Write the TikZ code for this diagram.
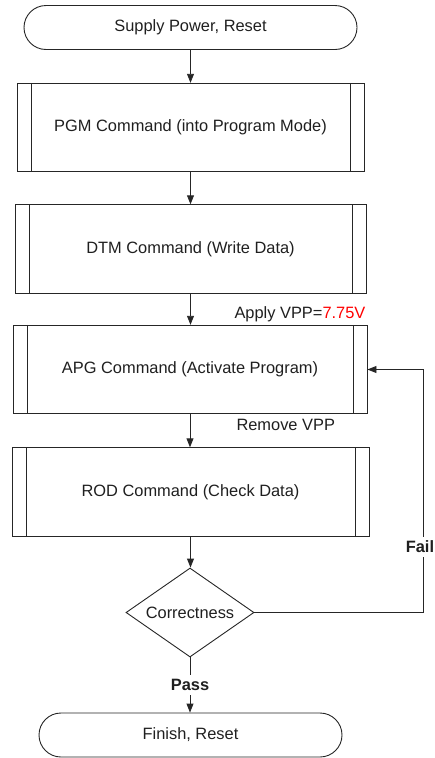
\documentclass[tikz,border=0pt]{standalone}
\usepackage{fontspec}
\setmainfont{Liberation Sans}
\usetikzlibrary{shapes.geometric,arrows.meta}
\begin{document}
\begin{tikzpicture}[x=1pt,y=-1pt,
 every node/.style={font=\fontsize{16.4}{18}\selectfont, text=black!88},
 line/.style={draw=black!85, line width=0.9pt},
 arr/.style={line, -{Triangle[length=9pt,width=7pt]}},
 term/.style={line, rectangle, rounded corners=22pt, minimum height=44pt, inner sep=0pt},
 sub/.style={line, rectangle, minimum height=88.5pt, inner sep=0pt},
 dec/.style={line, diamond, shape aspect=1.44, minimum width=128pt, minimum height=89pt, inner sep=0pt},
 lab/.style={fill=white, inner xsep=1pt, inner ysep=4pt, font=\bfseries\fontsize{16.4}{18}\selectfont}
]
\useasboundingbox (0,0) rectangle (435,758);

\node[term, minimum width=333pt] (start) at (190.5,27.5) {Supply Power, Reset};
\node[sub, minimum width=347pt] (pgm) at (190.5,127.5) {PGM Command (into Program Mode)};
\node[sub, minimum width=351pt] (dtm) at (190.5,249) {DTM Command (Write Data)};
\node[sub, minimum width=354pt] (apg) at (190,369.5) {APG Command (Activate Program)};
\node[sub, minimum width=357pt] (rod) at (190.5,492) {ROD Command (Check Data)};
\node[dec] (chk) at (190,612.5) {Correctness};
\node[term, minimum width=303pt] (fin) at (190.5,735) {Finish, Reset};

\foreach \n in {pgm,dtm,apg,rod}{
  \draw[line] ([xshift=14.5pt]\n.north west) -- ([xshift=14.5pt]\n.south west);
  \draw[line] ([xshift=-14.5pt]\n.north east) -- ([xshift=-14.5pt]\n.south east);
}

\draw[arr] (start.south) -- (start.south |- pgm.north);
\draw[arr] (pgm.south) -- (pgm.south |- dtm.north);
\draw[arr] (dtm.south) -- (dtm.south |- apg.north);
\draw[arr] (apg.south) -- (apg.south |- rod.north);
\draw[arr] (rod.south) -- (rod.south |- chk.north);
\draw[arr] (chk.south) -- (chk.south |- fin.north) node[lab, pos=0.5] (pass) {Pass};

\node[anchor=west] (vpp) at (231,314) {Apply VPP=\textcolor{red}{7.75V}};
\node[anchor=west] (rvpp) at (233,425) {Remove VPP};

\coordinate (c1) at (423,612.5);
\coordinate (c2) at (423,369.5);
\draw[arr] (chk.east) -- (c1) -- (c2) -- (apg.east);
\node[lab, anchor=east, inner xsep=0.5pt] (fail) at (434.8,547) {Fail};
\end{tikzpicture}
\end{document}
